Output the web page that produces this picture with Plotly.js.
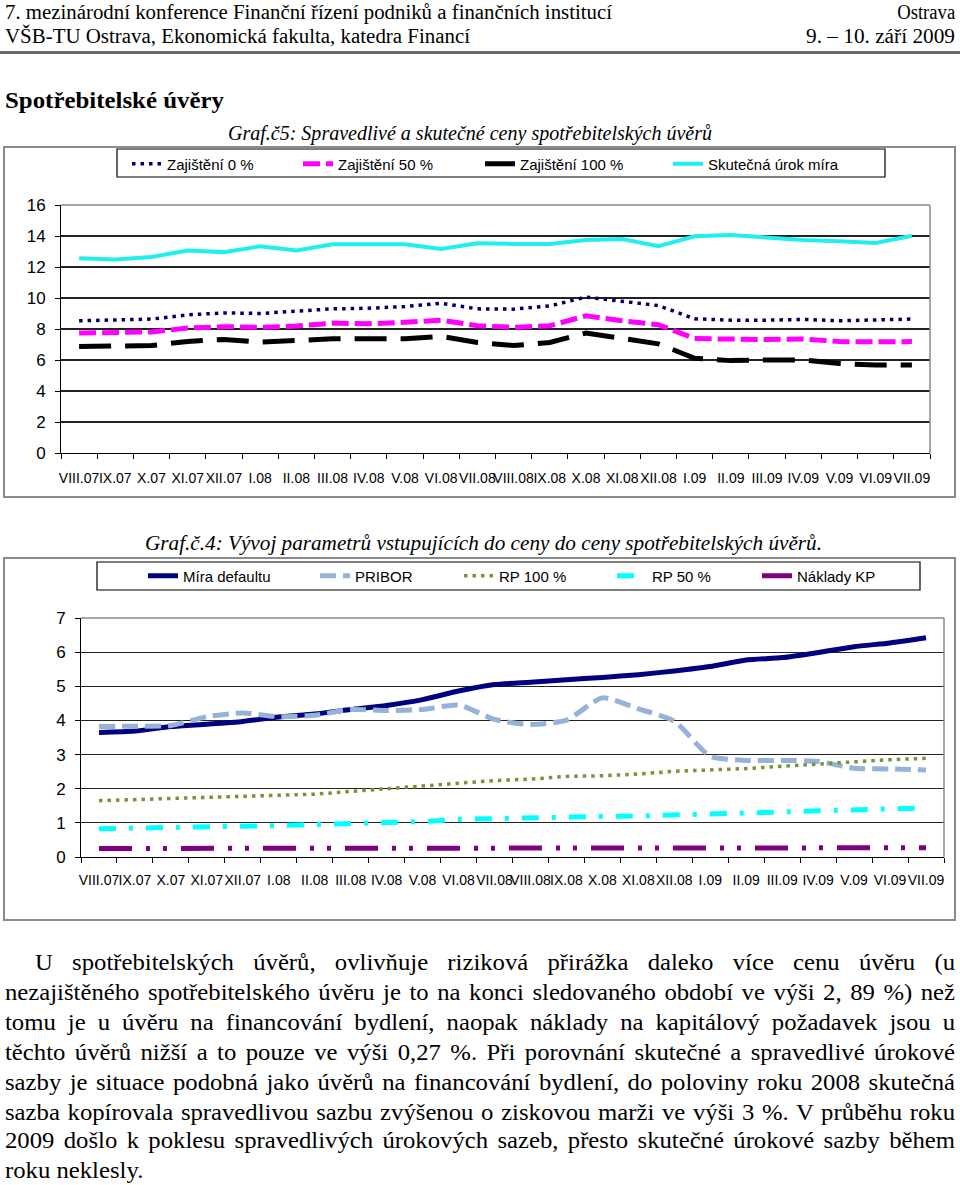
<!DOCTYPE html>
<html>
<head>
<meta charset="utf-8">
<script src="https://cdn.plot.ly/plotly-3.0.1.min.js"></script>
<style>
  html, body { margin:0; padding:0; background:#fff; }
  body { width:960px; height:1185px; position:relative; overflow:hidden; font-family:"Liberation Serif","Times New Roman",serif; color:#000; }
  .t { position:absolute; white-space:nowrap; line-height:24px; }
  .t span { display:inline-block; white-space:nowrap; }
  .frame { position:absolute; border:2px solid #8a8a8a; box-sizing:border-box; }
  .plot { position:absolute; }
</style>
</head>
<body>
<!-- header -->
<div class="t" style="left:5px; top:0px; font-size:20px;"><span id="h1">7. mezinárodní konference Finanční řízení podniků a finančních institucí</span></div>
<div class="t" style="right:5px; top:0px; font-size:20px;"><span id="h1r">Ostrava</span></div>
<div class="t" style="left:5px; top:24px; font-size:20px;"><span id="h2">VŠB-TU Ostrava, Ekonomická fakulta, katedra Financí</span></div>
<div class="t" style="right:5px; top:24px; font-size:20px;"><span id="h2r">9. – 10. září 2009</span></div>
<div style="position:absolute; left:0; top:51px; width:960px; height:3px; background:#6a6a6a;"></div>
<div class="t" style="left:5px; top:88px; font-size:24px; font-weight:bold;"><span id="hd">Spotřebitelské úvěry</span></div>
<div class="t" style="left:228px; top:121px; font-size:20px; font-style:italic;"><span id="c1">Graf.č5: Spravedlivé a skutečné ceny spotřebitelských úvěrů</span></div>

<div class="frame" style="left:3px; top:146px; width:953px; height:352px;"></div>
<div id="chart1" class="plot" style="left:3px; top:147px; width:957px; height:350px;"></div>

<div class="t" style="left:145px; top:531px; font-size:20px; font-style:italic;"><span id="c2">Graf.č.4: Vývoj parametrů vstupujících do ceny do ceny spotřebitelských úvěrů.</span></div>

<div class="frame" style="left:3px; top:557px; width:953px; height:364px;"></div>
<div id="chart2" class="plot" style="left:3px; top:558px; width:957px; height:362px;"></div>

<!-- body text -->
<div id="body"></div>

<script>
// ---------------- data ----------------
const categories = ['VIII.07','IX.07','X.07','XI.07','XII.07','I.08','II.08','III.08','IV.08','V.08','VI.08','VII.08','VIII.08','IX.08','X.08','XI.08','XII.08','I.09','II.09','III.09','IV.09','V.09','VI.09','VII.09'];

// Graf 5
const zajisteni0   = [8.53,8.57,8.64,8.91,9.04,9.00,9.13,9.30,9.34,9.45,9.66,9.30,9.28,9.49,10.06,9.77,9.51,8.66,8.57,8.57,8.62,8.53,8.57,8.64];
const zajisteni50  = [7.74,7.79,7.81,8.06,8.15,8.11,8.19,8.38,8.34,8.43,8.57,8.21,8.11,8.21,8.85,8.53,8.28,7.38,7.32,7.32,7.36,7.19,7.17,7.19];
const zajisteni100 = [6.87,6.91,6.93,7.20,7.33,7.15,7.24,7.37,7.37,7.37,7.52,7.13,6.93,7.13,7.74,7.41,7.04,6.11,5.96,6.00,6.00,5.78,5.67,5.67];
const skutecnaMira = [12.57,12.49,12.64,13.06,12.96,13.34,13.06,13.47,13.47,13.47,13.17,13.53,13.49,13.49,13.74,13.80,13.34,13.98,14.06,13.91,13.74,13.66,13.55,14.02];
const names1 = ['Zajištění 0 %','Zajištění 50 %','Zajištění 100 %','Skutečná úrok míra'];

// Graf 4
const miraDefaultu = [3.65,3.69,3.82,3.89,3.97,4.10,4.19,4.32,4.44,4.61,4.86,5.05,5.12,5.19,5.26,5.34,5.45,5.58,5.77,5.84,5.99,6.16,6.27,6.42];
const pribor       = [3.82,3.83,3.85,4.11,4.22,4.11,4.15,4.32,4.29,4.32,4.45,4.03,3.88,4.01,4.66,4.34,3.98,2.95,2.83,2.83,2.80,2.60,2.58,2.55];
const rp100        = [1.65,1.68,1.71,1.73,1.76,1.80,1.84,1.92,2.00,2.09,2.15,2.24,2.28,2.36,2.38,2.43,2.51,2.54,2.59,2.66,2.73,2.79,2.85,2.89];
const rp50         = [0.83,0.84,0.85,0.88,0.90,0.92,0.95,0.97,1.01,1.04,1.10,1.13,1.15,1.17,1.19,1.20,1.23,1.26,1.29,1.31,1.34,1.37,1.41,1.44];
const nakladyKP    = [0.25,0.25,0.25,0.25,0.25,0.25,0.25,0.25,0.25,0.25,0.25,0.25,0.25,0.25,0.25,0.25,0.25,0.25,0.25,0.25,0.26,0.27,0.27,0.27];
const names2 = ['Míra defaultu','PRIBOR','RP 100 %','RP 50 %','Náklady KP'];

const yTicks1 = [0,2,4,6,8,10,12,14,16];
const yTicks2 = [0,1,2,3,4,5,6,7];

const bodyLines = [
  'U spotřebitelských úvěrů, ovlivňuje riziková přirážka daleko více cenu úvěru (u',
  'nezajištěného spotřebitelského úvěru je to na konci sledovaného období ve výši 2, 89 %) než',
  'tomu je u úvěru na financování bydlení, naopak náklady na kapitálový požadavek jsou u',
  'těchto úvěrů nižší a to pouze ve výši 0,27 %. Při porovnání skutečné a spravedlivé úrokové',
  'sazby je situace podobná jako úvěrů na financování bydlení, do poloviny roku 2008 skutečná',
  'sazba kopírovala spravedlivou sazbu zvýšenou o ziskovou marži ve výši 3 %. V průběhu roku',
  '2009 došlo k poklesu spravedlivých úrokových sazeb, přesto skutečné úrokové sazby během',
  'roku neklesly.'
];

// ---------------- text helpers ----------------
function fit(id, w, right) {
  const el = document.getElementById(id);
  const nat = el.getBoundingClientRect().width;
  el.style.transformOrigin = right ? 'right center' : 'left center';
  el.style.transform = 'scaleX(' + (w / nat) + ')';
}
fit('h1', 607); fit('h1r', 58, true);
fit('h2', 465); fit('h2r', 149, true);
fit('hd', 219);
fit('c1', 484); fit('c2', 677);

// body paragraph: one common glyph scale, each full line justified by word spacing
const body = document.getElementById('body');
const lineTops = [950, 980, 1010, 1040, 1070, 1100, 1128, 1158];
const spans = [];
bodyLines.forEach((txt, i) => {
  const d = document.createElement('div');
  d.className = 't';
  const left = i === 0 ? 35 : 5;
  d.style.left = left + 'px';
  d.style.top = lineTops[i] + 'px';
  d.style.fontSize = '24px';
  const s = document.createElement('span');
  s.textContent = txt;
  d.appendChild(s);
  body.appendChild(d);
  spans.push({ s, txt, target: 955 - left, nat: s.getBoundingClientRect().width, n: (txt.match(/ /g) || []).length });
});
let gScale = 10;
spans.slice(0, -1).forEach(o => { gScale = Math.min(gScale, o.target / (o.nat + 1.5 * o.n)); });
spans.forEach((o, i) => {
  o.s.style.transformOrigin = 'left center';
  o.s.style.transform = 'scaleX(' + gScale + ')';
  if (i < spans.length - 1) {
    const ws = Math.max(0, (o.target / gScale - o.nat) / o.n);
    o.s.style.wordSpacing = ws + 'px';
  }
});

// ---------------- charts ----------------
const FONT = '"Liberation Sans", Arial, sans-serif';

function legendAt(xPaper, yPaper, iw) {
  return { x: xPaper, y: yPaper, xanchor: 'left', yanchor: 'middle', orientation: 'h',
           bgcolor: 'rgba(0,0,0,0)', borderwidth: 0, itemwidth: iw || 30,
           font: { family: FONT, size: 15, color: '#000' }, itemclick: false, itemdoubleclick: false };
}

// Chart 1 geometry: plot area page x 61..930, y 205..453
const c1 = { l: 58, r: 30, t: 58, b: 44, x0: 61, w: 869, yb: 453, h: 248 };
const px1 = p => (p - c1.x0) / c1.w;
const py1 = p => (c1.yb - p) / c1.h;

const tr1 = [
  { y: zajisteni0,   name: names1[0], line: { color: '#000066', width: 3.5, dash: '3.5px,5px' } },
  { y: zajisteni50,  name: names1[1], line: { color: '#FF00FF', width: 5, dash: '17px,6px' } },
  { y: zajisteni100, name: names1[2], line: { color: '#000000', width: 5, dash: '32px,14px' } },
  { y: skutecnaMira, name: names1[3], line: { color: '#22EEEE', width: 4 } }
].map((t, i) => Object.assign({ type: 'scatter', mode: 'lines', x: categories, legend: i === 0 ? 'legend' : 'legend' + (i + 1), hoverinfo: 'skip' }, t));

const leg1Text = [172, 343, 525, 713];
const layout1 = {
  width: 957, height: 350, margin: { l: c1.l, r: c1.r, t: c1.t, b: c1.b, pad: 0, autoexpand: false },
  paper_bgcolor: 'rgba(0,0,0,0)', plot_bgcolor: 'rgba(0,0,0,0)',
  font: { family: FONT, size: 14, color: '#000' },
  showlegend: true,
  xaxis: { type: 'category', range: [-0.5, categories.length - 0.5], tickangle: 0, tickson: 'boundaries', ticks: 'outside', ticklen: 5, tickcolor: '#000',
           showline: true, linecolor: '#000', linewidth: 1, showgrid: false, zeroline: false,
           tickfont: { family: FONT, size: 14 }, ticklabelstandoff: 12, fixedrange: true },
  yaxis: { range: [0, 16], tickvals: yTicks1, ticktext: yTicks1.map(String), ticks: 'outside', ticklen: 5, tickcolor: '#000',
           showline: true, linecolor: '#000', linewidth: 1, showgrid: true, gridcolor: '#222', gridwidth: 1.2,
           zeroline: false, tickfont: { family: FONT, size: 17 }, ticklabelstandoff: 6, fixedrange: true },
  shapes: [
    { type: 'rect', xref: 'paper', yref: 'paper', x0: px1(117), x1: px1(885), y0: py1(177), y1: py1(149), line: { color: '#000', width: 1.2 }, fillcolor: 'rgba(0,0,0,0)' },
    { type: 'line', xref: 'paper', yref: 'paper', x0: 0, x1: 1, y0: 1, y1: 1, line: { color: '#8a8a8a', width: 1.5 } },
    { type: 'line', xref: 'paper', yref: 'paper', x0: 1, x1: 1, y0: 0, y1: 1, line: { color: '#8a8a8a', width: 1.5 } }
  ]
};
leg1Text.forEach((tx, i) => {
  layout1[i === 0 ? 'legend' : 'legend' + (i + 1)] = legendAt(px1(tx - 45), py1(164));
});

// Chart 2 geometry: plot area page x 81..944, y 618..857
const c2 = { l: 78, r: 16, t: 60, b: 63, x0: 81, w: 863, yb: 857, h: 239 };
const px2 = p => (p - c2.x0) / c2.w;
const py2 = p => (c2.yb - p) / c2.h;

const tr2 = [
  { y: miraDefaultu, name: names2[0], line: { color: '#000080', width: 5, shape: 'spline', smoothing: 0.6 } },
  { y: pribor,       name: names2[1], line: { color: '#95B3D7', width: 5, dash: '16px,7px', shape: 'spline', smoothing: 0.6 } },
  { y: rp100,        name: names2[2], line: { color: '#77933C', width: 3.5, dash: '3.5px,5px' } },
  { y: rp50,         name: names2[3], line: { color: '#00FFFF', width: 5, dash: '17px,13px,4px,13px' } },
  { y: nakladyKP,    name: names2[4], line: { color: '#800080', width: 5, dash: '33px,14px,4px,13px,4px,14px' } }
].map((t, i) => Object.assign({ type: 'scatter', mode: 'lines', x: categories, legend: i === 0 ? 'legend' : 'legend' + (i + 1), hoverinfo: 'skip' }, t));

const leg2Text = [188, 360, 504, 657, 802];
const layout2 = {
  width: 957, height: 362, margin: { l: c2.l, r: c2.r, t: c2.t, b: c2.b, pad: 0, autoexpand: false },
  paper_bgcolor: 'rgba(0,0,0,0)', plot_bgcolor: 'rgba(0,0,0,0)',
  font: { family: FONT, size: 14, color: '#000' },
  showlegend: true,
  xaxis: { type: 'category', range: [-0.5, categories.length - 0.5], tickangle: 0, tickson: 'boundaries', ticks: 'outside', ticklen: 5, tickcolor: '#000',
           showline: true, linecolor: '#000', linewidth: 1, showgrid: false, zeroline: false,
           tickfont: { family: FONT, size: 14 }, ticklabelstandoff: 10, fixedrange: true },
  yaxis: { range: [0, 7], tickvals: yTicks2, ticktext: yTicks2.map(String), ticks: 'outside', ticklen: 5, tickcolor: '#000',
           showline: true, linecolor: '#000', linewidth: 1, showgrid: true, gridcolor: '#222', gridwidth: 1.2,
           zeroline: false, tickfont: { family: FONT, size: 17 }, ticklabelstandoff: 6, fixedrange: true },
  shapes: [
    { type: 'rect', xref: 'paper', yref: 'paper', x0: px2(97), x1: px2(920), y0: py2(590), y1: py2(562), line: { color: '#000', width: 1.2 }, fillcolor: 'rgba(0,0,0,0)' },
    { type: 'line', xref: 'paper', yref: 'paper', x0: 0, x1: 1, y0: 1, y1: 1, line: { color: '#8a8a8a', width: 1.5 } },
    { type: 'line', xref: 'paper', yref: 'paper', x0: 1, x1: 1, y0: 0, y1: 1, line: { color: '#8a8a8a', width: 1.5 } }
  ]
};
leg2Text.forEach((tx, i) => {
  layout2[i === 0 ? 'legend' : 'legend' + (i + 1)] = legendAt(px2(tx - 45), py2(576));
});

const cfg = { displayModeBar: false, staticPlot: true };
Plotly.newPlot('chart1', tr1, layout1, cfg);
Plotly.newPlot('chart2', tr2, layout2, cfg);
</script>
</body>
</html>
